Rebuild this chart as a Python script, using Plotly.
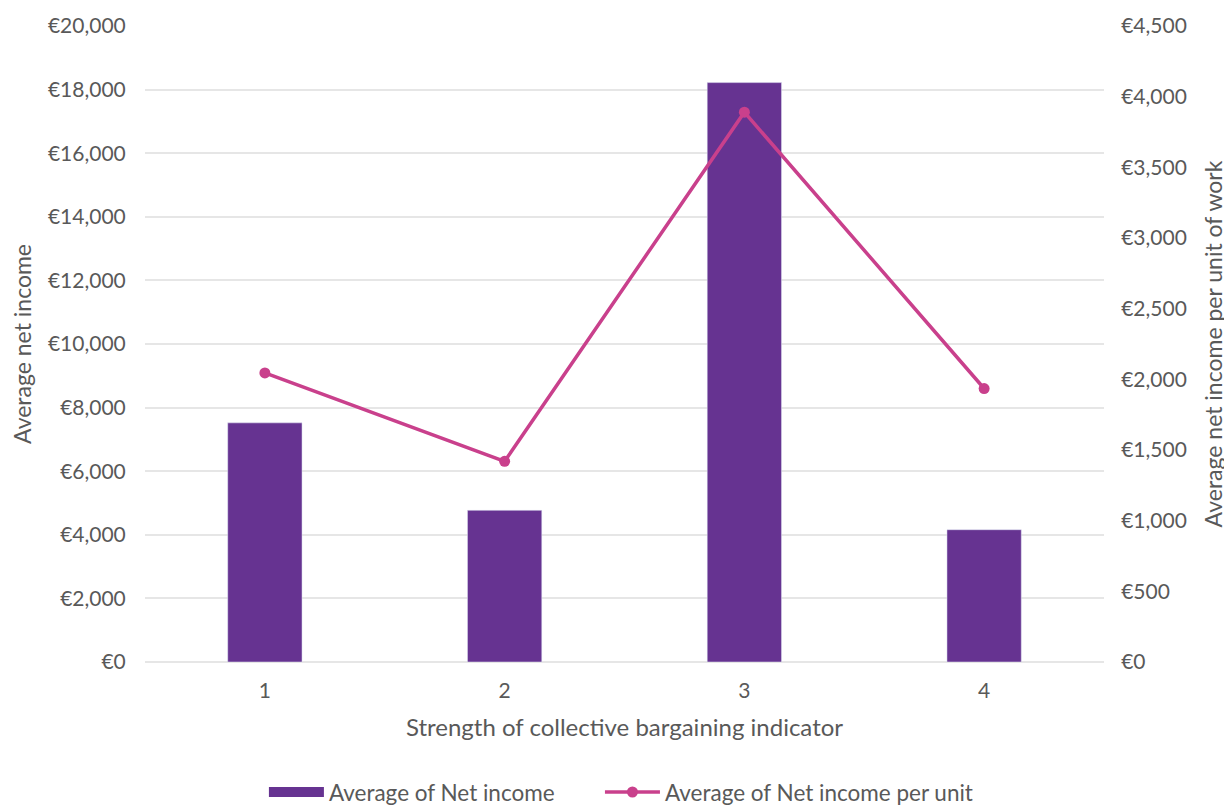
import plotly.graph_objects as go

categories = ["1", "2", "3", "4"]
net_income = [7520, 4770, 18220, 4160]
net_income_per_unit = [2045, 1420, 3890, 1935]

bar_color = "#663391"
line_color = "#c9408c"
text_color = "#595959"
font_family = "Lato, 'Open Sans', sans-serif"

fig = go.Figure()
fig.add_trace(go.Bar(
    x=categories, y=net_income, name="Average of Net income",
    marker=dict(color=bar_color), width=0.31, yaxis="y", showlegend=False,
    legendgroup="bar",
))
# legend entry drawn as a wide block like the original (no visible mark in the plot);
# trailing no-break spaces widen the gap to the next legend entry
fig.add_trace(go.Scatter(
    x=[categories[0]], y=[None], name="Average of Net income" + "\u00a0" * 7, mode="lines",
    line=dict(color=bar_color, width=13), legendgroup="bar", legendrank=1,
    hoverinfo="skip",
))
fig.add_trace(go.Scatter(
    x=categories, y=net_income_per_unit, name="Average of Net income per unit",
    mode="lines+markers", line=dict(color=line_color, width=3.5),
    marker=dict(color=line_color, size=11), yaxis="y2", legendrank=2,
))

fig.update_layout(
    width=1232, height=807,
    margin=dict(l=137, r=136, t=18, b=153, autoexpand=False),
    paper_bgcolor="white", plot_bgcolor="white",
    font=dict(family=font_family, color=text_color, size=21),
    showlegend=True,
    legend=dict(orientation="h", x=0.124, xanchor="left", y=-0.205, yanchor="middle",
                font=dict(size=22.5), tracegroupgap=0, itemwidth=55),
    xaxis=dict(
        showgrid=False, showline=False, zeroline=False,
        ticks="outside", ticklen=10, tickcolor="rgba(0,0,0,0)",
        tickfont=dict(size=21),
        title=dict(text="Strength of collective bargaining indicator", font=dict(size=24), standoff=17),
    ),
    yaxis=dict(
        range=[0, 20000], dtick=2000, tickprefix="€", tickformat=",d",
        showgrid=True, gridcolor="#e6e6e6", gridwidth=2,
        zeroline=True, zerolinecolor="#e6e6e6", zerolinewidth=2,
        showline=False, ticks="outside", ticklen=14, tickcolor="rgba(0,0,0,0)",
        tickfont=dict(size=21),
        title=dict(text="Average net income", font=dict(size=23), standoff=20),
    ),
    yaxis2=dict(
        range=[0, 4500], dtick=500, tickprefix="€", tickformat=",d",
        overlaying="y", side="right", showgrid=False, zeroline=False, showline=False,
        ticks="outside", ticklen=12, tickcolor="rgba(0,0,0,0)",
        tickfont=dict(size=21),
        title=dict(text="Average net income per unit of work", font=dict(size=23), standoff=20),
    ),
)

fig.write_html("out.html")
